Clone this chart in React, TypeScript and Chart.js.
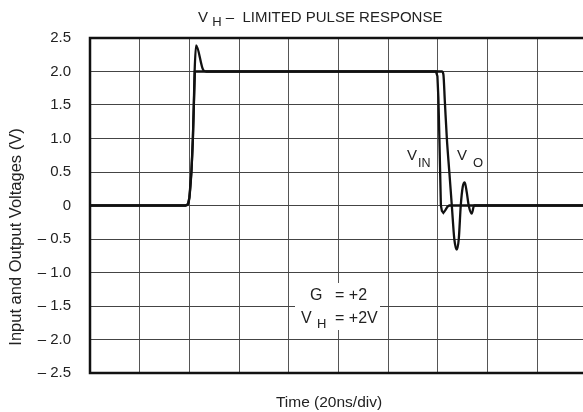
import React, { useEffect, useRef } from "react";
import { Chart, registerables } from "chart.js";

Chart.register(...registerables);

// ---- data (time in divisions of 20 ns, voltage in V) ----
const yTickValues = [2.5, 2.0, 1.5, 1.0, 0.5, 0, -0.5, -1.0, -1.5, -2.0, -2.5];
const yTickLabels = ["2.5", "2.0", "1.5", "1.0", "0.5", "0", "– 0.5", "– 1.0", "– 1.5", "– 2.0", "– 2.5"];

const vinTime = [0, 1.92, 1.97, 2.0, 2.04, 2.07, 2.09, 2.11, 2.14, 6.96, 6.99, 7.01, 7.03, 7.06, 7.08, 7.11, 7.15, 7.19, 7.23, 10];
const vinVolts = [0, 0, 0.02, 0.12, 0.5, 1.0, 1.5, 2.0, 2.0, 2.0, 1.93, 1.6, 1.0, 0.0, -0.08, -0.11, -0.07, -0.02, 0, 0];

const voTime = [0, 1.92, 1.97, 2.0, 2.04, 2.07, 2.09, 2.105, 2.134, 2.28, 2.34, 7.08, 7.11, 7.14, 7.18, 7.23, 7.28, 7.33, 7.38, 7.42, 7.46, 7.5, 7.54, 7.58, 7.62, 7.68, 7.73, 10];
const voVolts = [0, 0, 0.02, 0.12, 0.5, 1.0, 1.55, 2.0, 2.39, 2.02, 2.0, 2.0, 1.96, 1.55, 1.0, 0.5, 0.0, -0.5, -0.66, -0.5, 0.0, 0.28, 0.345, 0.2, 0.0, -0.12, 0, 0];

const FONT = "'Liberation Sans', Arial, Helvetica, sans-serif";
const TEXT_COLOR = "#222";

type Run = { t: string; s: number; dy?: number };

function drawRuns(ctx: CanvasRenderingContext2D, x: number, baseline: number, runs: Run[], align: "left" | "center" = "left") {
  ctx.save();
  ctx.fillStyle = TEXT_COLOR;
  ctx.textBaseline = "alphabetic";
  ctx.textAlign = "left";
  let total = 0;
  for (const r of runs) {
    ctx.font = `${r.s}px ${FONT}`;
    total += ctx.measureText(r.t).width;
  }
  let cx = align === "center" ? x - total / 2 : x;
  for (const r of runs) {
    ctx.font = `${r.s}px ${FONT}`;
    ctx.fillText(r.t, cx, baseline + (r.dy || 0));
    cx += ctx.measureText(r.t).width;
  }
  ctx.restore();
}

const decorPlugin = {
  id: "decor",
  beforeDatasetsDraw(chart: any) {
    const ctx: CanvasRenderingContext2D = chart.ctx;
    ctx.save();
    ctx.fillStyle = "#fff";
    ctx.fillRect(295, 283, 85, 47);
    ctx.restore();
  },
  afterDatasetsDraw(chart: any) {
    const ctx: CanvasRenderingContext2D = chart.ctx;
    const a = chart.chartArea;
    ctx.save();
    ctx.strokeStyle = "#111";
    ctx.lineWidth = 2.5;
    ctx.beginPath();
    ctx.moveTo(a.right + 2, a.top);
    ctx.lineTo(a.left, a.top);
    ctx.lineTo(a.left, a.bottom);
    ctx.lineTo(a.right + 2, a.bottom);
    ctx.stroke();
    ctx.restore();

    // title
    drawRuns(ctx, 198, 22, [
      { t: "V", s: 15 },
      { t: " ", s: 15 },
      { t: "H", s: 13, dy: 4 },
      { t: " – ", s: 15 },
      { t: " LIMITED PULSE RESPONSE", s: 15 },
    ]);
    // x title
    drawRuns(ctx, 329, 407, [{ t: "Time (20ns/div)", s: 15.5 }], "center");
    // y title
    ctx.save();
    ctx.translate(21, 237);
    ctx.rotate(-Math.PI / 2);
    drawRuns(ctx, 0, 0, [{ t: "Input and Output Voltages (V)", s: 16.5 }], "center");
    ctx.restore();
    // curve labels
    drawRuns(ctx, 407, 160, [{ t: "V", s: 15 }]);
    drawRuns(ctx, 418, 167, [{ t: "IN", s: 12.5 }]);
    drawRuns(ctx, 457, 160, [{ t: "V", s: 15 }]);
    drawRuns(ctx, 473, 167, [{ t: "O", s: 13 }]);
    // gain annotation
    drawRuns(ctx, 310, 300, [{ t: "G", s: 16 }]);
    drawRuns(ctx, 335, 300, [{ t: "= +2", s: 16 }]);
    drawRuns(ctx, 301, 323, [{ t: "V", s: 16 }]);
    drawRuns(ctx, 317, 328, [{ t: "H", s: 13 }]);
    drawRuns(ctx, 335, 323, [{ t: "= +2V", s: 16 }]);
  },
};

export default function App() {
  const ref = useRef<HTMLCanvasElement | null>(null);
  useEffect(() => {
    if (!ref.current) return;
    const chart = new Chart(ref.current, {
      type: "line",
      data: {
        datasets: [
          {
            label: "VIN",
            data: vinTime.map((t, i) => ({ x: t, y: vinVolts[i] })),
            borderColor: "#111",
            borderWidth: 2.3,
            pointRadius: 0,
            tension: 0,
            fill: false,
          },
          {
            label: "VO",
            data: voTime.map((t, i) => ({ x: t, y: voVolts[i] })),
            borderColor: "#111",
            borderWidth: 2.3,
            pointRadius: 0,
            cubicInterpolationMode: "monotone",
            fill: false,
          },
        ],
      },
      options: {
        animation: false,
        responsive: false,
        layout: { padding: { left: 0, top: 38, right: 13, bottom: 39 } },
        plugins: { legend: { display: false }, tooltip: { enabled: false }, title: { display: false } },
        scales: {
          x: {
            type: "linear",
            min: 0,
            max: 10,
            ticks: { display: false, stepSize: 1 },
            grid: { color: "#555", lineWidth: 1, drawTicks: false },
            border: { display: false },
            afterFit: (s: any) => {
              s.height = 0;
            },
          },
          y: {
            type: "linear",
            min: -2.5,
            max: 2.5,
            ticks: {
              stepSize: 0.5,
              padding: 19,
              color: TEXT_COLOR,
              font: { family: FONT, size: 15 },
              callback: (v: any) => {
                const i = yTickValues.findIndex((y) => Math.abs(y - Number(v)) < 1e-6);
                return i >= 0 ? yTickLabels[i] : "";
              },
            },
            grid: { color: "#444", lineWidth: 1, drawTicks: false },
            border: { display: false },
            afterFit: (s: any) => {
              s.width = 90;
            },
          },
        },
      },
      plugins: [decorPlugin],
    } as any);
    return () => chart.destroy();
  }, []);
  return (
    <div style={{ position: "fixed", left: 0, top: 0, width: 583, height: 412, overflow: "hidden", background: "#fff" }}>
      <canvas ref={ref} width={600} height={412} style={{ display: "block" }} />
    </div>
  );
}
